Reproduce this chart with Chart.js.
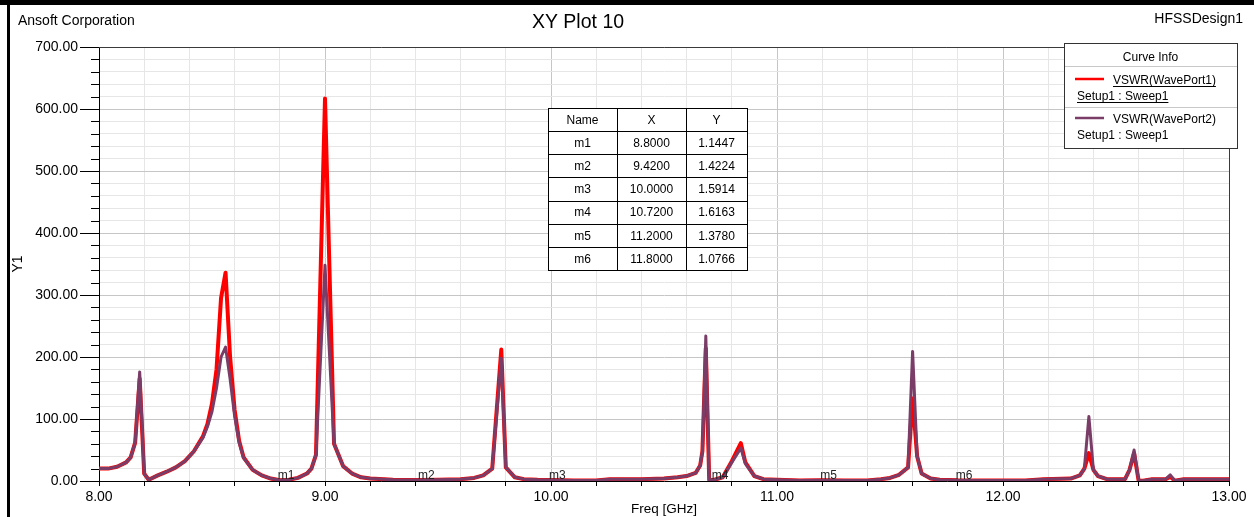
<!DOCTYPE html>
<html><head><meta charset="utf-8">
<script src="https://cdn.jsdelivr.net/npm/chart.js@4/dist/chart.umd.min.js"></script>
<style>html,body{margin:0;padding:0;background:#fff;}canvas{display:block;}</style>
</head><body>
<canvas id="c" width="1254" height="517"></canvas>
<script>
// ---- data ----
const freq  = [8.00,8.04,8.08,8.12,8.14,8.16,8.18,8.20,8.22,8.26,8.30,8.34,8.38,8.42,8.46,8.48,8.50,8.52,8.54,8.56,8.58,8.60,8.62,8.64,8.68,8.72,8.76,8.80,8.84,8.88,8.92,8.94,8.96,9.00,9.04,9.08,9.12,9.16,9.20,9.30,9.42,9.50,9.60,9.66,9.70,9.74,9.78,9.80,9.84,9.88,9.94,10.00,10.10,10.20,10.26,10.40,10.50,10.56,10.60,10.64,10.66,10.67,10.685,10.70,10.72,10.76,10.80,10.84,10.86,10.90,10.94,11.00,11.10,11.20,11.30,11.40,11.46,11.50,11.54,11.58,11.60,11.62,11.64,11.68,11.72,11.80,11.90,12.00,12.10,12.18,12.30,12.34,12.36,12.38,12.40,12.42,12.46,12.54,12.56,12.58,12.60,12.62,12.66,12.72,12.74,12.76,12.80,12.90,13.00];
const vswr1 = [20,20,23,30,38,62,165,12,2,9,15,22,32,48,72,92,125,180,295,336,200,115,65,38,18,9,4,1.14,2,5,12,20,42,617,60,24,12,6,4,2,1.42,2,3,5,9,20,212,22,6,3,2,1.59,1,1,3,3,4,6,8,13,25,48,214,2,1.62,6,32,61,30,8,3,2,1,1.38,1,1,3,5,10,22,133,40,12,4,2,1.08,1,1,1,3,4,9,20,45,18,8,3,3,18,45,1,0.5,3,3,7,0.5,3,3,3];
const vswr2 = [20,20,23,30,38,62,176,12,2,9,15,22,32,48,70,88,112,150,200,216,165,105,62,37,18,9,4,1.14,2,5,12,20,42,348,60,24,12,6,4,2,1.42,2,3,5,9,20,198,22,6,3,2,1.59,1,1,3,3,4,6,8,13,25,48,234,2,1.62,6,30,53,28,8,3,2,1,1.38,1,1,3,5,10,22,209,40,12,4,2,1.08,1,1,1,3,4,9,20,104,18,8,3,3,18,50,1,0.5,3,3,10,0.5,3,3,3];
const seriesNames  = ['VSWR(WavePort1)', 'VSWR(WavePort2)'];
const seriesSetup  = ['Setup1 : Sweep1', 'Setup1 : Sweep1'];
const seriesColors = ['#ff0000', '#7a3d68'];
const markerNames = ['m1','m2','m3','m4','m5','m6'];
const markerX = [8.8, 9.42, 10.0, 10.72, 11.2, 11.8];
const markerY = [1.1447, 1.4224, 1.5914, 1.6163, 1.3780, 1.0766];
const tableHeader = ['Name', 'X', 'Y'];
const xMin = 8, xMax = 13, xStep = 0.2;
const yMin = 0, yMax = 700, yStep = 20, yMajor = 100;

const F = '"Liberation Sans", Arial, sans-serif';
const isInt = v => Math.abs(v - Math.round(v)) < 1e-6;

const deco = {
  id: 'deco',
  beforeDraw(chart) {
    const c = chart.ctx; c.save(); c.fillStyle = '#fff'; c.fillRect(0, 0, chart.width, chart.height); c.restore();
  },
  afterDraw(chart) {
    const c = chart.ctx, a = chart.chartArea, xs = chart.scales.x, ys = chart.scales.y;
    c.save();
    // plot frame (top & right)
    c.strokeStyle = '#3a3a3a'; c.lineWidth = 1;
    c.beginPath(); c.moveTo(a.left, Math.round(a.top) + 0.5); c.lineTo(Math.round(a.right) + 0.5, Math.round(a.top) + 0.5);
    c.lineTo(Math.round(a.right) + 0.5, a.bottom); c.stroke();
    // minor y ticks
    c.strokeStyle = '#000';
    ys.ticks.forEach(t => {
      if (t.value % yMajor !== 0) {
        const y = Math.round(ys.getPixelForValue(t.value)) + 0.5;
        c.beginPath(); c.moveTo(a.left - 8, y); c.lineTo(a.left, y); c.stroke();
      }
    });
    // marker labels
    c.font = '12px ' + F; c.fillStyle = '#222'; c.textAlign = 'left'; c.textBaseline = 'alphabetic';
    markerNames.forEach((n, i) => c.fillText(n, xs.getPixelForValue(markerX[i]) - 2, a.bottom - 2));
    // marker table
    const tx = [548, 617, 686, 747], ty0 = 108, rh = 23.14;
    const rows = [tableHeader].concat(markerNames.map((n, i) => [n, markerX[i].toFixed(4), markerY[i].toFixed(4)]));
    c.fillStyle = '#fff'; c.fillRect(tx[0], ty0, tx[3] - tx[0], rh * rows.length);
    c.strokeStyle = '#000'; c.lineWidth = 1;
    for (let r = 0; r <= rows.length; r++) {
      const y = Math.round(ty0 + r * rh) + 0.5;
      c.beginPath(); c.moveTo(tx[0], y); c.lineTo(tx[3] + 1, y); c.stroke();
    }
    tx.forEach(x => { c.beginPath(); c.moveTo(x + 0.5, ty0); c.lineTo(x + 0.5, Math.round(ty0 + rows.length * rh) + 1); c.stroke(); });
    c.font = '12px ' + F; c.fillStyle = '#000'; c.textAlign = 'center'; c.textBaseline = 'middle';
    rows.forEach((row, r) => row.forEach((t, k) => c.fillText(t, (tx[k] + tx[k + 1]) / 2, ty0 + r * rh + rh / 2 + 1)));
    // legend box
    const lx = 1064, ly = 43, lw = 173, lh = 105;
    c.fillStyle = '#fff'; c.fillRect(lx, ly, lw, lh);
    c.strokeStyle = '#333'; c.strokeRect(lx + 0.5, ly + 0.5, lw, lh);
    c.fillStyle = '#000'; c.textAlign = 'center'; c.textBaseline = 'alphabetic'; c.font = '12px ' + F;
    c.fillText('Curve Info', lx + lw / 2, 61);
    c.strokeStyle = '#c8c8c8';
    [66, 107].forEach(y => { c.beginPath(); c.moveTo(lx + 1, y + 0.5); c.lineTo(lx + lw, y + 0.5); c.stroke(); });
    c.textAlign = 'left';
    const rowTop = [79, 118];
    seriesNames.forEach((name, i) => {
      const yl = rowTop[i];
      c.strokeStyle = seriesColors[i]; c.lineWidth = 2.5;
      c.beginPath(); c.moveTo(1075, yl); c.lineTo(1104, yl); c.stroke();
      c.fillStyle = '#000';
      c.fillText(name, 1113, yl + 5);
      c.fillText(seriesSetup[i], 1077, yl + 21);
      if (i === 0) {
        c.strokeStyle = '#000'; c.lineWidth = 1;
        const w1 = c.measureText(name).width, w2 = c.measureText(seriesSetup[i]).width;
        c.beginPath(); c.moveTo(1113, yl + 7.5); c.lineTo(1113 + w1, yl + 7.5); c.stroke();
        c.beginPath(); c.moveTo(1077, yl + 23.5); c.lineTo(1077 + w2, yl + 23.5); c.stroke();
      }
    });
    // header texts
    c.fillStyle = '#000'; c.textBaseline = 'alphabetic';
    c.font = '14px ' + F; c.textAlign = 'left'; c.fillText('Ansoft Corporation', 18, 25);
    c.textAlign = 'right'; c.fillText('HFSSDesign1', 1243, 23);
    c.font = '19.5px ' + F; c.textAlign = 'center'; c.fillText('XY Plot 10', 578, 28);
    // outer frame
    c.fillStyle = '#000'; c.fillRect(0, 0, chart.width, 5); c.fillRect(7, 0, 3, chart.height);
    c.restore();
  }
};

new Chart(document.getElementById('c'), {
  type: 'line',
  data: {
    datasets: [
      { label: seriesNames[0], data: freq.map((f, i) => ({x: f, y: vswr1[i]})), borderColor: seriesColors[0], borderWidth: 4, pointRadius: 0, tension: 0, borderJoinStyle: 'round', borderCapStyle: 'round', order: 2 },
      { label: seriesNames[1], data: freq.map((f, i) => ({x: f, y: vswr2[i]})), borderColor: seriesColors[1], borderWidth: 3, pointRadius: 0, tension: 0, borderJoinStyle: 'round', borderCapStyle: 'round', order: 1 }
    ]
  },
  options: {
    responsive: false, animation: false, devicePixelRatio: 1,
    layout: { padding: { top: 47, right: 25, left: 0, bottom: 0 } },
    plugins: { legend: { display: false }, tooltip: { enabled: false }, title: { display: false } },
    scales: {
      x: {
        type: 'linear', min: xMin, max: xMax,
        ticks: { stepSize: xStep, maxTicksLimit: 100, autoSkip: false, maxRotation: 0, padding: 3, color: '#000',
          font: { family: F, size: 14 }, callback: v => isInt(v) ? Number(v).toFixed(2) : '' },
        grid: { color: c => isInt(c.tick.value) ? '#c6c6c6' : '#e6e6e6', tickColor: '#000', tickLength: 5, lineWidth: 1 },
        border: { display: true, color: '#000', width: 1 },
        title: { display: true, text: 'Freq [GHz]', color: '#000', font: { family: F, size: 13.5 }, padding: { top: 0, bottom: 0 } },
        afterFit: s => { s.height = 36; }
      },
      y: {
        type: 'linear', min: yMin, max: yMax,
        ticks: { stepSize: yStep, maxTicksLimit: 100, autoSkip: false, padding: 2, color: '#000',
          font: { family: F, size: 14 }, callback: v => (v % yMajor === 0) ? Number(v).toFixed(2) : '' },
        grid: { color: c => (c.tick.value % yMajor === 0) ? '#c6c6c6' : '#e6e6e6',
          tickColor: c => (c.tick && c.tick.value % yMajor === 0) ? '#000' : 'rgba(0,0,0,0)', tickLength: 19, lineWidth: 1 },
        border: { display: true, color: '#000', width: 1 },
        title: { display: true, text: 'Y1', color: '#000', font: { family: F, size: 14 }, padding: { top: 10, bottom: 0 } },
        afterFit: s => { s.width = 99; }
      }
    }
  },
  plugins: [deco]
});
</script>
</body></html>
